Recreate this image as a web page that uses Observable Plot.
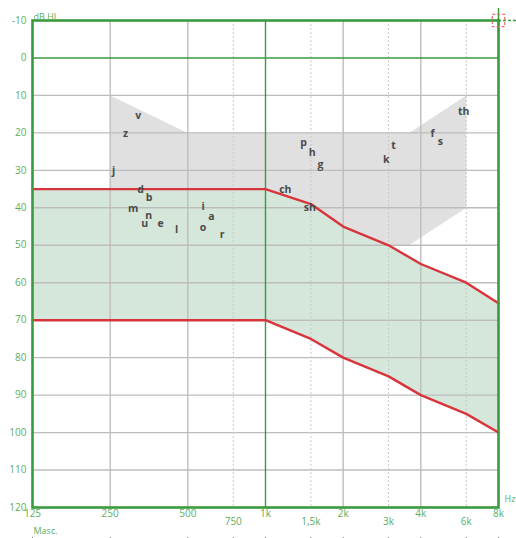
<!DOCTYPE html>
<html>
<head>
<meta charset="utf-8">
<script src="https://cdn.jsdelivr.net/npm/d3@7"></script>
<script src="https://cdn.jsdelivr.net/npm/@observablehq/plot@0.6"></script>
<style>
  html, body { margin: 0; padding: 0; background: #fff; }
</style>
</head>
<body>
<div id="chart"></div>
<script>
// ---- Data ----
const freqs = [125, 250, 500, 750, 1000, 1500, 2000, 3000, 4000, 6000, 8000];
const upperDb = [35, 35, 35, 35, 35, 39, 45, 50, 55, 60, 65.5];
const lowerDb = [70, 70, 70, 70, 70, 75, 80, 85, 90, 95, 100];

const bananaF  = [250, 500, 3600, 6000, 6000, 3600, 250];
const bananaDb = [10, 20, 20, 10, 40, 50, 50];

const phonemes  = ["v","z","j","d","b","m","n","u","e","l","i","a","o","r","p","h","g","ch","sh","k","t","f","s","th"];
const phonemeF  = [321,287,258,328,354,307,353,340,392,452,573,617,573,679,1406,1516,1632,1194,1484,2940,3138,4444,4760,5860];
const phonemeDb = [15.4,20.2,30.2,35.2,37.2,40.3,42.2,44.1,44.3,45.9,39.8,42.3,45.3,47.2,22.7,25.2,28.4,35.2,40.0,27.2,23.4,20.1,22.3,14.2];

const yTicks = [-10, 0, 10, 20, 30, 40, 50, 60, 70, 80, 90, 100, 110, 120];
const xTicksMain = [125, 250, 500, 1000, 2000, 4000, 8000];
const xTicksMid = [750, 1500, 3000, 6000];
const xLabels = {125:"125",250:"250",500:"500",750:"750",1000:"1k",1500:"1,5k",2000:"2k",3000:"3k",4000:"4k",6000:"6k",8000:"8k"};
const gridSolidX = [250, 500, 2000, 4000];
const gridDashedX = [750, 1500, 3000, 6000];
const gridGreenX = [1000];
const gridY = [10, 20, 30, 40, 50, 60, 70, 80, 90, 100, 110];
const gridGreenY = [0];

// ---- Build tables ----
const curve = freqs.map((f, i) => ({f, up: upperDb[i], lo: lowerDb[i]}));
const banana = bananaF.map((f, i) => ({f, db: bananaDb[i]}));
const letters = phonemes.map((t, i) => ({t, f: phonemeF[i], db: phonemeDb[i]}));

const GREEN = "#3a9a3f";
const LABEL = "#5cae5c";
const RED = "#d8343c";

const chart = Plot.plot({
  width: 516,
  height: 538,
  marginLeft: 32,
  marginRight: 18,
  marginTop: 20,
  marginBottom: 31,
  style: {fontFamily: "'Open Sans', sans-serif", background: "#fff", overflow: "visible"},
  x: {type: "log", domain: [125, 8000], axis: null},
  y: {domain: [-10, 120], reverse: true, axis: null},
  marks: [
    // speech banana
    Plot.line(banana, {x: "f", y: "db", fill: "#e0e0e0", stroke: "none", curve: "linear-closed"}),
    // hearing loss band
    Plot.areaY(curve, {x: "f", y1: "up", y2: "lo", fill: "#d4e7da"}),
    // grid
    Plot.ruleY(gridY, {stroke: "#bdbdbd", strokeWidth: 1.4}),
    Plot.ruleX(gridSolidX, {stroke: "#bdbdbd", strokeWidth: 1.4}),
    Plot.ruleX(gridDashedX, {stroke: "#c8c8c8", strokeWidth: 1, strokeDasharray: "2,2"}),
    Plot.ruleX(gridGreenX, {stroke: GREEN, strokeWidth: 1.4}),
    Plot.ruleY(gridGreenY, {stroke: GREEN, strokeWidth: 1.4}),
    // threshold lines
    Plot.line(curve, {x: "f", y: "up", stroke: RED, strokeWidth: 2.4}),
    Plot.line(curve, {x: "f", y: "lo", stroke: RED, strokeWidth: 2.4}),
    // phoneme letters
    Plot.text(letters, {x: "f", y: "db", text: "t", fill: "#4a4a4a", fontSize: 10.5, fontWeight: "bold"}),
    // frame
    Plot.frame({stroke: GREEN, strokeWidth: 2.6}),
    // axis labels
    Plot.text(yTicks, {y: d => d, text: d => String(d), frameAnchor: "left", dx: -6, textAnchor: "end", fill: LABEL, fontSize: 10}),
    Plot.text(xTicksMain, {x: d => d, text: d => xLabels[d], frameAnchor: "bottom", dy: 9, fill: LABEL, fontSize: 10}),
    Plot.text(xTicksMid, {x: d => d, text: d => xLabels[d], frameAnchor: "bottom", dy: 17, fill: LABEL, fontSize: 10}),
    Plot.ruleX(freqs, {y1: () => 128, y2: () => 129.5, stroke: "#777", strokeWidth: 1}),
    Plot.text(["dB HL"], {frameAnchor: "top-left", dy: -7, dx: 1, textAnchor: "start", fill: LABEL, fontSize: 9}),
    Plot.text(["Hz"], {frameAnchor: "bottom-right", dx: 6, dy: -6, textAnchor: "start", fill: LABEL, fontSize: 9}),
    Plot.text(["Masc."], {frameAnchor: "bottom-left", dy: 26, dx: 1, textAnchor: "start", fill: LABEL, fontSize: 9}),
    // cursor marker at top-right
    Plot.ruleY([-10], {x1: () => 8000, x2: () => 9400, stroke: GREEN, strokeWidth: 1.5, strokeDasharray: "3,2"}),
    Plot.ruleX([8000], {y1: () => -13.2, y2: () => -6.5, stroke: GREEN, strokeWidth: 1.5}),
    Plot.dot([8000], {x: d => d, y: () => -10, symbol: "square", r: 7, fill: "none", stroke: "#e07070", strokeDasharray: "3,2", strokeWidth: 1.2}),
    Plot.dot([8000], {x: d => d, y: () => -10, r: 2, fill: GREEN})
  ]
});

document.getElementById("chart").appendChild(chart);
</script>
</body>
</html>
